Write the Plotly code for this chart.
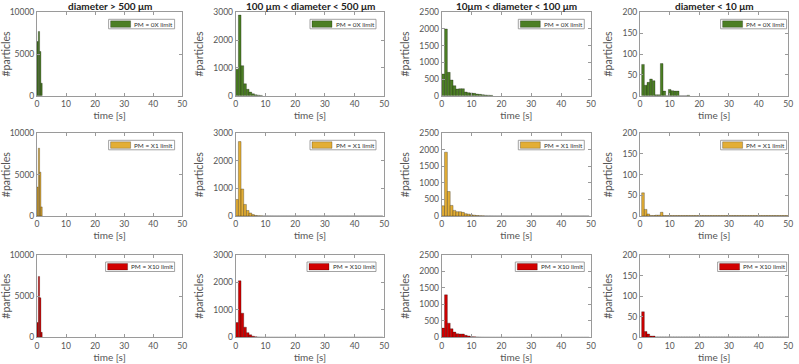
import plotly.graph_objects as go

# ---------------- data ----------------
col_titles = ["diameter > 500 μm", "100 μm < diameter < 500 μm",
              "10μm < diameter < 100 μm", "diameter < 10 μm"]
row_labels = ["PM = 0X limit", "PM = X1 limit", "PM = X10 limit"]
time_ticks = [0, 10, 20, 30, 40, 50]
y_max = [10000, 3000, 2500, 200]
y_step = [5000, 1000, 500, 50]

# histogram bins per column (start time, bin width) in seconds
bin_start = [0.0, 0.0, 0.0, 0.56]
bin_width = [0.45, 0.9, 0.95, 0.9]

# counts, row 1 (PM = 0X limit)
counts_0x_c1 = [6500, 7700, 5300, 1500]
counts_0x_c2 = [950, 2900, 1080, 430, 230, 130, 70, 35, 20, 10]
counts_0x_c3 = [650, 2000, 700, 470, 300, 200, 210, 210, 110, 90, 80, 70, 50, 40, 30, 20, 15, 10]
counts_0x_c4 = [75, 25, 32, 40, 36, 2, 2, 77, 11, 0, 15, 12, 11, 11, 0, 0, 0, 1]

# counts, row 2 (PM = X1 limit)
counts_x1_c1 = [3500, 8200, 5300, 1100]
counts_x1_c2 = [600, 2700, 980, 420, 200, 110, 50, 20, 10, 5,
                3, 2, 2, 2, 1, 1, 1, 1, 1, 1, 1, 1, 1, 1, 1, 1, 1, 1, 1, 1, 1, 1,
                1, 1, 1, 1, 1, 1, 1, 1, 1, 1, 1, 1, 1, 1, 1, 1, 1, 1, 1, 1, 1, 1, 1]
counts_x1_c3 = [310, 1930, 740, 320, 170, 130, 130, 110, 70, 55, 35, 25, 15, 10, 5,
                3, 2, 2, 1, 1, 1, 1, 1, 1, 1, 1, 1, 1, 1, 1, 1, 1, 1, 1,
                1, 1, 1, 1, 1, 1, 1, 1, 1, 1, 1, 1, 1, 1, 1, 1, 1, 1]
counts_x1_c4 = [56, 16, 5, 1, 1, 2, 2, 9, 1, 1, 1, 1, 1, 1, 1, 1, 1, 1, 1,
                1, 1, 1, 1, 1, 1, 1, 1, 1, 1, 1, 1, 1, 1, 1, 1, 1, 1,
                1, 1, 1, 1, 1, 1, 1, 1, 1, 1, 1, 1, 1, 1, 1, 1, 1, 1]

# counts, row 3 (PM = X10 limit)
counts_x10_c1 = [1800, 7400, 4800, 600]
counts_x10_c2 = [540, 2060, 880, 370, 170, 90, 40, 20, 10, 5,
                 3, 2, 2, 1, 1, 1, 1, 1, 1, 1, 1, 1, 1, 1, 1, 1, 1, 1, 1, 1, 1, 1,
                 1, 1, 1, 1, 1, 1, 1, 1, 1, 1, 1, 1, 1, 1, 1, 1, 1, 1, 1, 1, 1, 1, 1]
counts_x10_c3 = [280, 1290, 430, 260, 160, 110, 100, 100, 60, 40, 20, 15, 10, 5,
                 3, 2, 2, 1, 1, 1, 1, 1, 1, 1, 1, 1, 1, 1, 1, 1, 1, 1, 1, 1,
                 1, 1, 1, 1, 1, 1, 1, 1, 1, 1, 1, 1, 1, 1, 1, 1, 1, 1]
counts_x10_c4 = [62, 14, 8, 3, 3, 1, 1, 1, 1, 1, 1, 1, 1, 1, 1, 1, 1, 1, 1,
                 1, 1, 1, 1, 1, 1, 1, 1, 1, 1, 1, 1, 1, 1, 1, 1, 1, 1,
                 1, 1, 1, 1, 1, 1, 1, 1, 1, 1, 1, 1, 1, 1, 1, 1, 1, 1]

counts = [
    [counts_0x_c1, counts_0x_c2, counts_0x_c3, counts_0x_c4],
    [counts_x1_c1, counts_x1_c2, counts_x1_c3, counts_x1_c4],
    [counts_x10_c1, counts_x10_c2, counts_x10_c3, counts_x10_c4],
]

# ---------------- style / layout ----------------
W, H = 799, 364
FONT = "Lato"
row_colors = ["#4C7F24", "#E3AE35", "#D10000"]
axis_color = "#9a9a9a"
text_color = "#555555"

col_px = [(37, 182.3), (235.7, 384.3), (441.7, 591), (640, 788.3)]
row_px = [(12.3, 95.7), (133.3, 216), (255, 337.3)]
legend_right_gap = [7.7, 8.3, 6.7, 1.7]
legend_width = [66, 66, 69]

fig = go.Figure()
layout = dict(width=W, height=H, margin=dict(l=0, r=0, t=0, b=0),
              paper_bgcolor="white", plot_bgcolor="white",
              showlegend=False, font=dict(family=FONT, color=text_color))
shapes, annotations = [], []

for r in range(3):
    for c in range(4):
        n = r * 4 + c + 1
        xs = "" if n == 1 else str(n)
        vals = counts[r][c]
        centers = [bin_start[c] + (i + 0.5) * bin_width[c] for i in range(len(vals))]
        fig.add_trace(go.Bar(
            x=centers, y=vals, width=bin_width[c],
            marker=dict(color=row_colors[r], line=dict(color="rgba(0,0,0,0.55)", width=0.5)),
            xaxis="x" + xs, yaxis="y" + xs, hoverinfo="x+y"))

        x0, x1 = col_px[c]
        ytop, ybot = row_px[r]
        xdom = [x0 / W, x1 / W]
        ydom = [1 - ybot / H, 1 - ytop / H]
        common = dict(showline=True, linecolor=axis_color, linewidth=1, mirror="allticks",
                      ticks="inside", ticklen=3, tickcolor=axis_color, showgrid=False,
                      zeroline=False, automargin=False,
                      tickfont=dict(size=8.5, family=FONT, color=text_color))
        layout["xaxis" + xs] = dict(domain=xdom, anchor="y" + xs, range=[0, 50],
                                    tickvals=time_ticks,
                                    title=dict(text="time [s]", font=dict(size=10, family=FONT, color=text_color),
                                               standoff=2),
                                    **common)
        layout["yaxis" + xs] = dict(domain=ydom, anchor="x" + xs, range=[0, y_max[c]],
                                    dtick=y_step[c], tick0=0, tickformat="d",
                                    title=dict(text="#particles", font=dict(size=10.5, family=FONT, color=text_color),
                                               standoff=7),
                                    **common)

        # legend box (MATLAB-style) drawn inside each axes
        aw = x1 - x0
        ah = ybot - ytop
        bx1 = aw - legend_right_gap[c]
        bx0 = bx1 - legend_width[r]
        by0, by1 = 7, 16.5
        xr, yr = "x" + xs + " domain", "y" + xs + " domain"
        shapes.append(dict(type="rect", xref=xr, yref=yr,
                           x0=bx0 / aw, x1=bx1 / aw, y0=1 - by1 / ah, y1=1 - by0 / ah,
                           line=dict(color="#8c8c8c", width=0.8), fillcolor="white", layer="above"))
        shapes.append(dict(type="rect", xref=xr, yref=yr,
                           x0=(bx0 + 2) / aw, x1=(bx0 + 22) / aw,
                           y0=1 - (by1 - 1.5) / ah, y1=1 - (by0 + 1.5) / ah,
                           line=dict(color="rgba(0,0,0,0.5)", width=0.5),
                           fillcolor=row_colors[r], layer="above"))
        annotations.append(dict(xref=xr, yref=yr, x=(bx0 + 23.5) / aw, y=1 - (by0 + by1) / 2 / ah,
                                xanchor="left", yanchor="middle", showarrow=False,
                                text=row_labels[r], font=dict(size=6.4, family=FONT, color="#333333")))
        if r == 0:
            annotations.append(dict(xref=xr, yref=yr, x=0.5, y=1, yanchor="middle", yshift=6.5,
                                    showarrow=False, text="<b>" + col_titles[c] + "</b>",
                                    font=dict(size=10, family=FONT, color="#222222")))

layout["shapes"] = shapes
layout["annotations"] = annotations
fig.update_layout(**layout)
fig.write_html("out.html", config={"displayModeBar": False},
               post_script="document.body.style.margin='0px';")
